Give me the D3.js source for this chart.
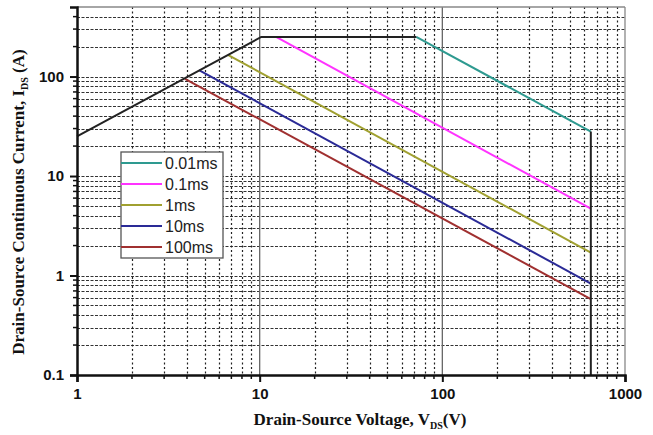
<!DOCTYPE html>
<html><head><meta charset="utf-8">
<script src="https://cdn.jsdelivr.net/npm/d3@7"></script>
<style>body{margin:0;background:#fff}</style>
</head><body>
<svg id="c" width="653" height="435"></svg>
<script>
// ---- data ----
const seriesNames = ["0.01ms","0.1ms","1ms","10ms","100ms"];
const seriesColors = ["#2e9a90","#ff33ff","#a0a030","#2a2a96","#a03030"];
// each series: [V, I] endpoints
const s001 = [[72,250],[650,28]];
const s01  = [[12.3,250],[650,4.7]];
const s1   = [[6.7,165],[650,1.7]];
const s10  = [[4.65,116],[650,0.83]];
const s100 = [[3.9,95],[650,0.58]];
const seriesData = [s001,s01,s1,s10,s100];
const boundary = [[1,25],[10.2,250],[72,250]];
const boundaryEnd = [[650,28],[650,0.1]];
const xTicks = [1,10,100,1000];
const xTickLabels = ["1","10","100","1000"];
const yTicks = [0.1,1,10,100];
const yTickLabels = ["0.1","1","10","100"];

const svg = d3.select("#c");
const x = d3.scaleLog().domain([1,1000]).range([77,625]);
const y = d3.scaleLog().domain([0.1,500]).range([375,7]);

// minor values
const xMinor = [], yMinor = [];
[1,10,100].forEach(d=>{for(let k=2;k<=9;k++) xMinor.push(d*k);});
[0.1,1,10].forEach(d=>{for(let k=2;k<=9;k++) yMinor.push(d*k);});
yMinor.push(200,300,400);

const g = svg.append("g");
// horizontal dashed grid
g.selectAll(".hg").data(yMinor.concat([1,10,100])).join("line")
  .attr("x1",x(1)).attr("x2",x(1000))
  .attr("y1",d=>Math.round(y(d))+0.5).attr("y2",d=>Math.round(y(d))+0.5)
  .attr("stroke","#333").attr("stroke-width",1).attr("stroke-dasharray","3,1.5");
// vertical dashed grid
g.selectAll(".vg").data(xMinor).join("line")
  .attr("y1",y(500)).attr("y2",y(0.1))
  .attr("x1",d=>Math.round(x(d))+0.5).attr("x2",d=>Math.round(x(d))+0.5)
  .attr("stroke","#222").attr("stroke-width",1.2).attr("stroke-dasharray","2,2.5");
// major vertical solid
g.selectAll(".vm").data([10,100]).join("line")
  .attr("y1",y(500)).attr("y2",y(0.1))
  .attr("x1",d=>x(d)).attr("x2",d=>x(d))
  .attr("stroke","#666").attr("stroke-width",1.3);
// top/right frame
g.append("line").attr("x1",x(1)).attr("x2",x(1000)).attr("y1",y(500)).attr("y2",y(500)).attr("stroke","#888").attr("stroke-width",1.3);
g.append("line").attr("x1",x(1000)).attr("x2",x(1000)).attr("y1",y(500)).attr("y2",y(0.1)).attr("stroke","#888").attr("stroke-width",1.3);

const line = d3.line().x(d=>x(d[0])).y(d=>y(d[1]));
// series
seriesData.forEach((s,i)=>{
  svg.append("path").attr("d",line(s)).attr("fill","none")
    .attr("stroke",seriesColors[i]).attr("stroke-width",2);
});
svg.append("path").attr("d",line(boundary)).attr("fill","none").attr("stroke","#222").attr("stroke-width",2);
svg.append("path").attr("d",line(boundaryEnd)).attr("fill","none").attr("stroke","#222").attr("stroke-width",2);

// axes
const xAxis = d3.axisBottom(x).tickValues(xTicks).tickFormat((d,i)=>xTickLabels[i]).tickSize(7).tickPadding(6);
const yAxis = d3.axisLeft(y).tickValues(yTicks).tickFormat((d,i)=>yTickLabels[i]).tickSize(7).tickPadding(6);
const gx = svg.append("g").attr("transform",`translate(0,${y(0.1)})`).call(xAxis);
const gy = svg.append("g").attr("transform",`translate(${x(1)},0)`).call(yAxis);
[gx,gy].forEach(a=>{
  a.select(".domain").attr("stroke","#111").attr("stroke-width",2.5);
  a.selectAll(".tick line").attr("stroke","#111").attr("stroke-width",2);
  a.selectAll("text").attr("font-family","Liberation Sans, Arial, sans-serif")
    .attr("font-weight","bold").attr("font-size",15).attr("fill","#111");
});
// minor ticks
svg.append("g").selectAll("line").data(xMinor).join("line")
  .attr("x1",d=>x(d)).attr("x2",d=>x(d)).attr("y1",y(0.1)).attr("y2",y(0.1)+4)
  .attr("stroke","#111").attr("stroke-width",1.5);
svg.append("g").selectAll("line").data(yMinor).join("line")
  .attr("y1",d=>y(d)).attr("y2",d=>y(d)).attr("x1",x(1)).attr("x2",x(1)-4)
  .attr("stroke","#111").attr("stroke-width",1.5);

// legend
const lg = svg.append("g");
lg.append("rect").attr("x",121).attr("y",152).attr("width",102).attr("height",106)
  .attr("fill","#fff").attr("stroke","#555").attr("stroke-width",1.3);
seriesNames.forEach((n,i)=>{
  const yy = 163 + i*21;
  lg.append("line").attr("x1",121).attr("x2",162).attr("y1",yy).attr("y2",yy)
    .attr("stroke",seriesColors[i]).attr("stroke-width",2);
  lg.append("text").attr("x",165).attr("y",yy).attr("dy","0.35em").text(n)
    .attr("font-family","Liberation Sans, Arial, sans-serif").attr("font-size",16).attr("fill","#222");
});

// axis titles
const xt = svg.append("text").attr("x",360).attr("y",425).attr("text-anchor","middle")
  .attr("font-family","Liberation Serif, Times New Roman, serif").attr("font-weight","bold")
  .attr("font-size",17).attr("fill","#111");
xt.append("tspan").text("Drain-Source Voltage, V");
xt.append("tspan").text("DS").attr("font-size",10).attr("dy",4);
xt.append("tspan").text("(V)").attr("dy",-4);

const yt = svg.append("text").attr("transform","translate(24,202) rotate(-90)").attr("text-anchor","middle")
  .attr("font-family","Liberation Serif, Times New Roman, serif").attr("font-weight","bold")
  .attr("font-size",17).attr("fill","#111");
yt.append("tspan").text("Drain-Source Continuous Current, I");
yt.append("tspan").text("DS").attr("font-size",10).attr("dy",4);
yt.append("tspan").text(" (A)").attr("dy",-4);
</script>
</body></html>
